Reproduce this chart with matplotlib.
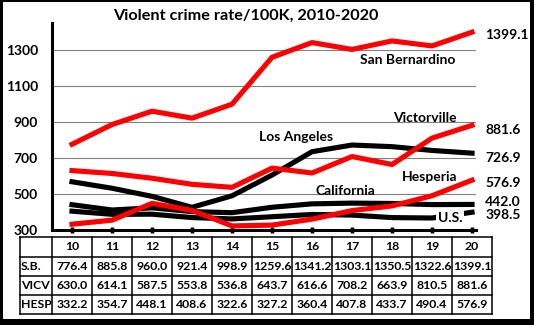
import matplotlib
matplotlib.use("Agg")
from matplotlib import pyplot as plt
from matplotlib.patches import Rectangle
from matplotlib.lines import Line2D

plt.rcParams['font.family'] = ['Lato', 'DejaVu Sans']

# data
years = [10, 11, 12, 13, 14, 15, 16, 17, 18, 19, 20]
san_bernardino = [776.4, 885.8, 960.0, 921.4, 998.9, 1259.6, 1341.2, 1303.1, 1350.5, 1322.6, 1399.1]
victorville = [630.0, 614.1, 587.5, 553.8, 536.8, 643.7, 616.6, 708.2, 663.9, 810.5, 881.6]
hesperia = [332.2, 354.7, 448.1, 408.6, 322.6, 327.2, 360.4, 407.8, 433.7, 490.4, 576.9]
los_angeles = [568, 532, 487, 426, 490, 605, 735, 772, 763, 742, 726.9]
california = [440.6, 411.1, 423.1, 402.1, 396.1, 426.3, 445.3, 449.3, 447.4, 441.2, 442.0]
us = [404.5, 387.1, 387.8, 369.1, 361.6, 373.7, 386.3, 382.9, 368.9, 366.7, 398.5]

table_rows = [("S.B.", san_bernardino), ("VICV", victorville), ("HESP", hesperia)]

W, H = 534, 325
fig = plt.figure(figsize=(W / 100, H / 100), dpi=100)


def fx(px):
    return px / W


def fy(py):
    return 1 - py / H


# plot area in pixels: x 52..476, y 23..230
ax = fig.add_axes([fx(52), fy(230), fx(476) - fx(52), fy(23) - fy(230)])
ax.set_xlim(9.5, 20.1)
ax.set_ylim(300, 1450)

for v in [500, 700, 900, 1100, 1300]:
    ax.axhline(v, color='#808080', lw=0.8, zorder=1)

lw = 3.7
ax.plot(years, los_angeles, color='black', lw=lw, solid_joinstyle='round', zorder=3)
ax.plot(years, california, color='black', lw=lw, solid_joinstyle='round', zorder=3)
ax.plot(years, us, color='black', lw=lw, solid_joinstyle='round', zorder=3)
ax.plot(years, hesperia, color='#ff0000', lw=lw, solid_joinstyle='round', zorder=4)
ax.plot(years, victorville, color='#ff0000', lw=lw, solid_joinstyle='round', zorder=4)
ax.plot(years, san_bernardino, color='#ff0000', lw=lw, solid_joinstyle='round', zorder=4)

for s in ['top', 'right']:
    ax.spines[s].set_visible(False)
ax.spines['left'].set_linewidth(2.2)
ax.spines['bottom'].set_linewidth(2.2)
ax.set_yticks([300, 500, 700, 900, 1100, 1300])
ax.tick_params(axis='y', length=0, pad=10, labelsize=10)
for t in ax.get_yticklabels():
    t.set_fontweight('bold')
ax.set_xticks(years)
ax.set_xticklabels([])
ax.tick_params(axis='x', direction='inout', length=5, width=2.5)

# series labels
lab = dict(fontsize=10, fontweight='bold', ha='center', va='center', zorder=6)
ax.text(18.4, 1244, "San Bernardino", **lab)
ax.text(18.83, 922, "Victorville", **lab)
ax.text(15.6, 817, "Los Angeles", **lab)
ax.text(16.83, 517, "California", **lab)
ax.text(18.95, 594, "Hesperia", **lab)
ax.text(19.45, 367, "U.S.", bbox=dict(facecolor='white', edgecolor='none', pad=1.5), **lab)

# end values
for val, ypos in [(san_bernardino[-1], 1383), (victorville[-1], 856), (los_angeles[-1], 700),
                  (hesperia[-1], 561), (california[-1], 456), (us[-1], 383)]:
    ax.text(20.33, ypos, f"{val:.1f}", fontsize=10, fontweight='bold', ha='left', va='center',
            clip_on=False)

fig.text(fx(246), fy(16), "Violent crime rate/100K, 2010-2020", fontsize=11.7,
         fontweight='bold', ha='center', va='center')

# data table
row_y = [237, 257, 276, 295, 314]
col_x = [20, 52] + [52 + 40 * (i + 1) for i in range(len(years))]
for py in row_y:
    fig.add_artist(Line2D([fx(20), fx(492)], [fy(py), fy(py)], color='black', lw=1.1))
for px in col_x:
    fig.add_artist(Line2D([fx(px), fx(px)], [fy(237), fy(314)], color='black', lw=1.1))

tsize = 8.8
for i, yr in enumerate(years):
    fig.text(fx(72 + 40 * i), fy(247), str(yr), fontsize=tsize, fontweight='bold',
             ha='center', va='center')
for r, (name, vals) in enumerate(table_rows):
    yc = (row_y[r + 1] + row_y[r + 2]) / 2
    fig.text(fx(21), fy(yc), name, fontsize=tsize, fontweight='bold', ha='left', va='center')
    for i, v in enumerate(vals):
        fig.text(fx(72 + 40 * i), fy(yc), f"{v:.1f}", fontsize=tsize, fontweight='bold',
                 ha='center', va='center')

# outer frame
for x0, y0, w, h in [(0, 0, 3, H), (0, 0, W, 2), (W - 4, 0, 4, H), (0, H - 6, W, 6)]:
    fig.patches.append(Rectangle((fx(x0), fy(y0 + h)), w / W, h / H, transform=fig.transFigure,
                                 facecolor='black', edgecolor='none'))

fig.savefig("out.png", dpi=100)
